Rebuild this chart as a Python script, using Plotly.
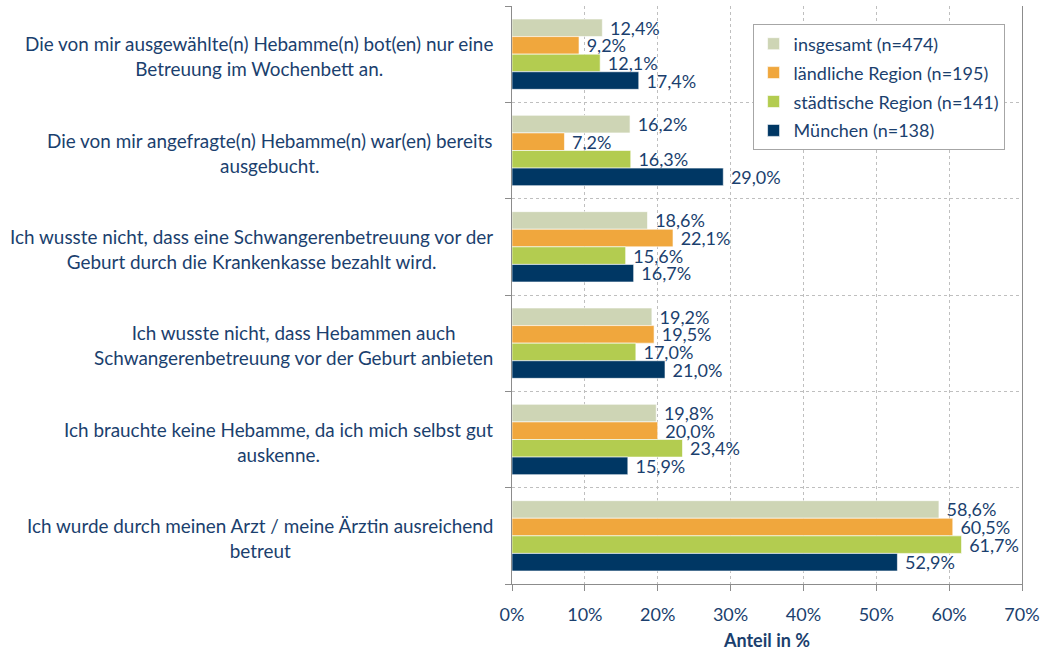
import plotly.graph_objects as go

categories = [
    "Die von mir ausgewählte(n) Hebamme(n) bot(en) nur eine<br>Betreuung im Wochenbett an.",
    "Die von mir angefragte(n) Hebamme(n) war(en) bereits<br>ausgebucht.",
    "Ich wusste nicht, dass eine Schwangerenbetreuung vor der<br>Geburt durch die Krankenkasse bezahlt wird.",
    "Ich wusste nicht, dass Hebammen auch<br>Schwangerenbetreuung vor der Geburt anbieten",
    "Ich brauchte keine Hebamme, da ich mich selbst gut<br>auskenne.",
    "Ich wurde durch meinen Arzt / meine Ärztin ausreichend<br>betreut",
]

series_names = [
    "insgesamt (n=474)",
    "ländliche Region (n=195)",
    "städtische Region (n=141)",
    "München (n=138)",
]

insgesamt = [12.4, 16.2, 18.6, 19.2, 19.8, 58.6]
laendlich = [9.2, 7.2, 22.1, 19.5, 20.0, 60.5]
staedtisch = [12.1, 16.3, 15.6, 17.0, 23.4, 61.7]
muenchen = [17.4, 29.0, 16.7, 21.0, 15.9, 52.9]

x_ticks = [0, 10, 20, 30, 40, 50, 60, 70]
x_ticktext = ["0%", "10%", "20%", "30%", "40%", "50%", "60%", "70%"]

colors = ["#CED5B5", "#F0A73D", "#B3CC50", "#003764"]
text_color = "#1B3F6E"
font_family = "Lato, 'Open Sans', sans-serif"

positions = list(range(len(categories)))

fig = go.Figure()
for i, (name, vals, col) in enumerate(zip(series_names, [insgesamt, laendlich, staedtisch, muenchen], colors)):
    fig.add_trace(go.Bar(
        y=positions,
        x=vals,
        name=name,
        legendgroup=f"g{i}",
        orientation="h",
        marker=dict(color=col, line=dict(color="white", width=0.6)),
        texttemplate="\u00a0%{x:.1f}%",
        textposition="outside",
        constraintext="none",
        cliponaxis=False,
        textfont=dict(color=text_color, size=18, family=font_family),
        hoverinfo="skip",
    ))

# category labels as centered text blocks left of the axis
for pos, label in zip(positions, categories):
    fig.add_annotation(
        x=0, xref="paper", xanchor="right", xshift=-17,
        y=pos, yref="y", yanchor="middle", yshift=-2,
        text=label, showarrow=False, align="center",
        font=dict(color=text_color, size=18.9, family=font_family),
    )

boundaries = [p - 0.5 for p in positions] + [positions[-1] + 0.5]

fig.update_layout(
    width=1046, height=653,
    margin=dict(l=512, r=21, t=6, b=64),
    paper_bgcolor="white", plot_bgcolor="white",
    barmode="group", bargap=0.27, bargroupgap=0,
    separators=", ",
    font=dict(family=font_family, color=text_color, size=18),
    showlegend=True,
    legend=dict(
        x=0.4717, y=0.968, xanchor="left", yanchor="top",
        bgcolor="white", bordercolor="#A6A6A6", borderwidth=1,
        font=dict(size=18, color=text_color, family=font_family),
        tracegroupgap=2.5,
    ),
    xaxis=dict(
        range=[0, 70], tickvals=x_ticks, ticktext=x_ticktext,
        showgrid=True, gridcolor="#BFBFBF", griddash="dot", gridwidth=1,
        showline=True, linecolor="#8C8C8C", linewidth=1,
        ticks="outside", ticklen=6, tickcolor="#8C8C8C",
        ticklabelstandoff=8,
        tickfont=dict(size=18, color=text_color, family=font_family),
        title=dict(text="<b>Anteil in %</b>", standoff=10,
                   font=dict(size=18, color=text_color, family=font_family)),
        zeroline=False,
    ),
    yaxis=dict(
        range=[positions[-1] + 0.5, positions[0] - 0.5],
        tickvals=positions, showticklabels=False, ticks="",
        showgrid=False, zeroline=False,
        showline=True, linecolor="#8C8C8C", linewidth=1, mirror=True,
        minor=dict(tickmode="array", tickvals=boundaries, showgrid=True,
                   gridcolor="#BFBFBF", griddash="dot", gridwidth=1,
                   ticks="outside", ticklen=6, tickcolor="#8C8C8C"),
    ),
)

fig.write_html("out.html")
